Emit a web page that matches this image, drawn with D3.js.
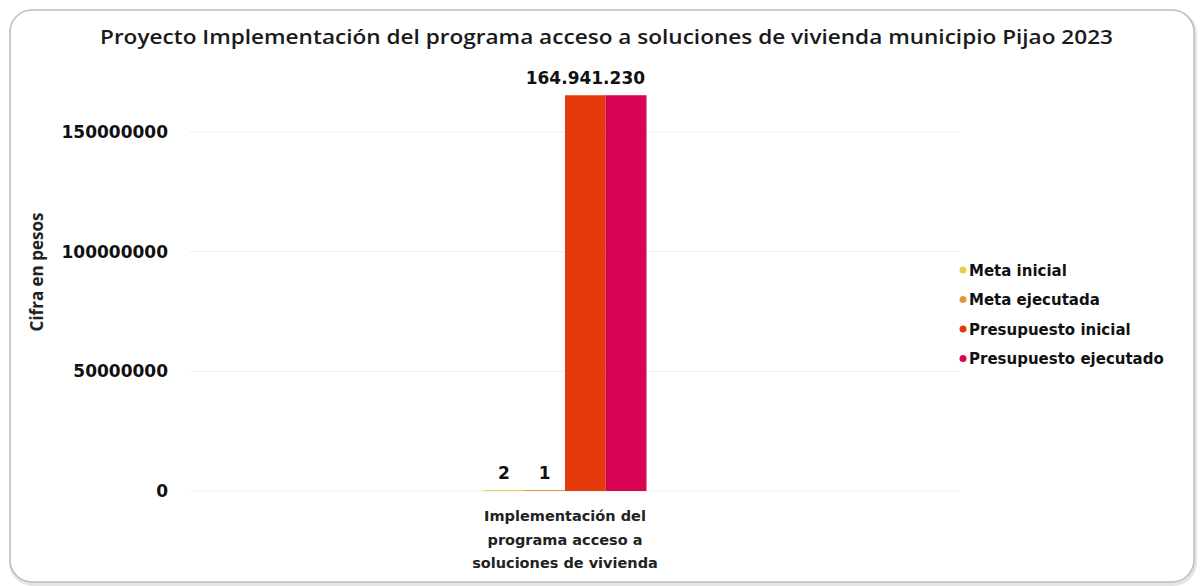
<!DOCTYPE html>
<html>
<head>
<meta charset="utf-8">
<script src="https://cdn.jsdelivr.net/npm/d3@7"></script>
<style>
  body { margin: 0; background: #fff; }
  text { font-family: "DejaVu Sans", Verdana, sans-serif; }
</style>
</head>
<body>
<div id="graphic"></div>
<script>
(function() {
  var W = 1201, H = 586;

  /*** DATA ***/
  var categories = ["Implementación del programa acceso a soluciones de vivienda"];
  var categoryLines = ["Implementación del", "programa acceso a", "soluciones de vivienda"];
  var series = ["Meta inicial", "Meta ejecutada", "Presupuesto inicial", "Presupuesto ejecutado"];
  var values = [2, 1, 164941230, 164941230];
  var labels = ["2", "1", "164.941.230", ""];
  var yTicks = [0, 50000000, 100000000, 150000000];
  var colors = ["#e6cf57", "#df9a45", "#e43a0c", "#d60452"];

  var plotBottom = 491;

  var svg = d3.select("#graphic")
    .append("svg")
    .attr("width", W)
    .attr("height", H);

  /*** CARD ***/
  svg.append("rect")
    .attr("x", 11).attr("y", 12)
    .attr("width", 1184).attr("height", 572)
    .attr("rx", 22)
    .attr("fill", "none")
    .attr("stroke", "#e4e4e4")
    .attr("stroke-width", 4);
  svg.append("rect")
    .attr("x", 10).attr("y", 10)
    .attr("width", 1184).attr("height", 572)
    .attr("rx", 22)
    .attr("fill", "#fff")
    .attr("stroke", "#bdbdbd")
    .attr("stroke-width", 1.5);

  /*** TITLE ***/
  svg.append("text")
    .attr("x", 100).attr("y", 44)
    .attr("textLength", 1013)
    .attr("lengthAdjust", "spacingAndGlyphs")
    .style("font-family", "'Open Sans', sans-serif")
    .style("font-weight", 600)
    .style("font-size", "19px")
    .attr("fill", "#1a1a1a")
    .text("Proyecto Implementación del programa acceso a soluciones de vivienda municipio Pijao 2023");

  /*** SCALES ***/
  var y = d3.scaleLinear().domain([0, 150000000]).range([plotBottom, 132]);
  var x0 = d3.scaleBand().domain(categories).range([190, 940]).paddingInner(0).paddingOuter(1.8);
  var x1 = d3.scaleBand().domain(series).range([0, x0.bandwidth()]);

  /*** GRIDLINES ***/
  svg.append("g").selectAll("line")
    .data(yTicks).enter().append("line")
    .attr("x1", 190).attr("x2", 960)
    .attr("y1", function(d) { return y(d); })
    .attr("y2", function(d) { return y(d); })
    .attr("stroke", "#eeeeee")
    .attr("stroke-width", 1);

  /*** Y AXIS ***/
  var yAxis = svg.append("g")
    .attr("transform", "translate(168,0)")
    .call(d3.axisLeft(y).tickValues(yTicks).tickSize(0).tickPadding(0).tickFormat(d3.format("d")));
  yAxis.select(".domain").remove();
  yAxis.selectAll("text")
    .style("font-family", "'DejaVu Sans', sans-serif")
    .style("font-weight", "bold")
    .style("font-size", "17px")
    .attr("fill", "#111");

  svg.append("text")
    .attr("transform", "translate(43,272) rotate(-90)")
    .attr("text-anchor", "middle")
    .style("font-family", "'Open Sans', sans-serif")
    .style("font-weight", 700)
    .style("font-size", "17px")
    .attr("fill", "#222")
    .text("Cifra en pesos");

  /*** BARS ***/
  var g = svg.append("g")
    .attr("transform", "translate(" + x0(categories[0]) + ",0)");

  g.selectAll(".bar")
    .data(values).enter().append("rect")
    .attr("class", "bar")
    .attr("x", function(d, i) { return x1(series[i]); })
    .attr("y", function(d) { return y(d) - 1; })
    .attr("width", x1.bandwidth())
    .attr("height", function(d) { return y(0) - y(d) + 1; })
    .attr("fill", function(d, i) { return colors[i]; });

  g.selectAll(".lbl")
    .data(values).enter().append("text")
    .attr("class", "lbl")
    .attr("x", function(d, i) { return x1(series[i]) + x1.bandwidth() / 2; })
    .attr("y", function(d) { return y(d) - 12; })
    .attr("text-anchor", "middle")
    .style("font-weight", "bold")
    .style("font-size", "17px")
    .attr("fill", "#111")
    .text(function(d, i) { return labels[i]; });

  /*** CATEGORY LABEL ***/
  svg.append("g").selectAll("text")
    .data(categoryLines).enter().append("text")
    .attr("x", x0(categories[0]) + x0.bandwidth() / 2)
    .attr("y", function(d, i) { return 521 + i * 23.5; })
    .attr("text-anchor", "middle")
    .style("font-weight", "bold")
    .style("font-size", "14.5px")
    .attr("fill", "#222")
    .text(function(d) { return d; });

  /*** LEGEND ***/
  var legend = svg.append("g").selectAll("g")
    .data(series).enter().append("g")
    .attr("transform", function(d, i) { return "translate(963," + (270 + i * 29.5) + ")"; });
  legend.append("circle")
    .attr("r", 3.5)
    .attr("fill", function(d, i) { return colors[i]; });
  legend.append("text")
    .attr("x", 6).attr("y", 5.5)
    .style("font-weight", "bold")
    .style("font-size", "15px")
    .attr("fill", "#111")
    .text(function(d) { return d; });
})();
</script>
</body>
</html>
